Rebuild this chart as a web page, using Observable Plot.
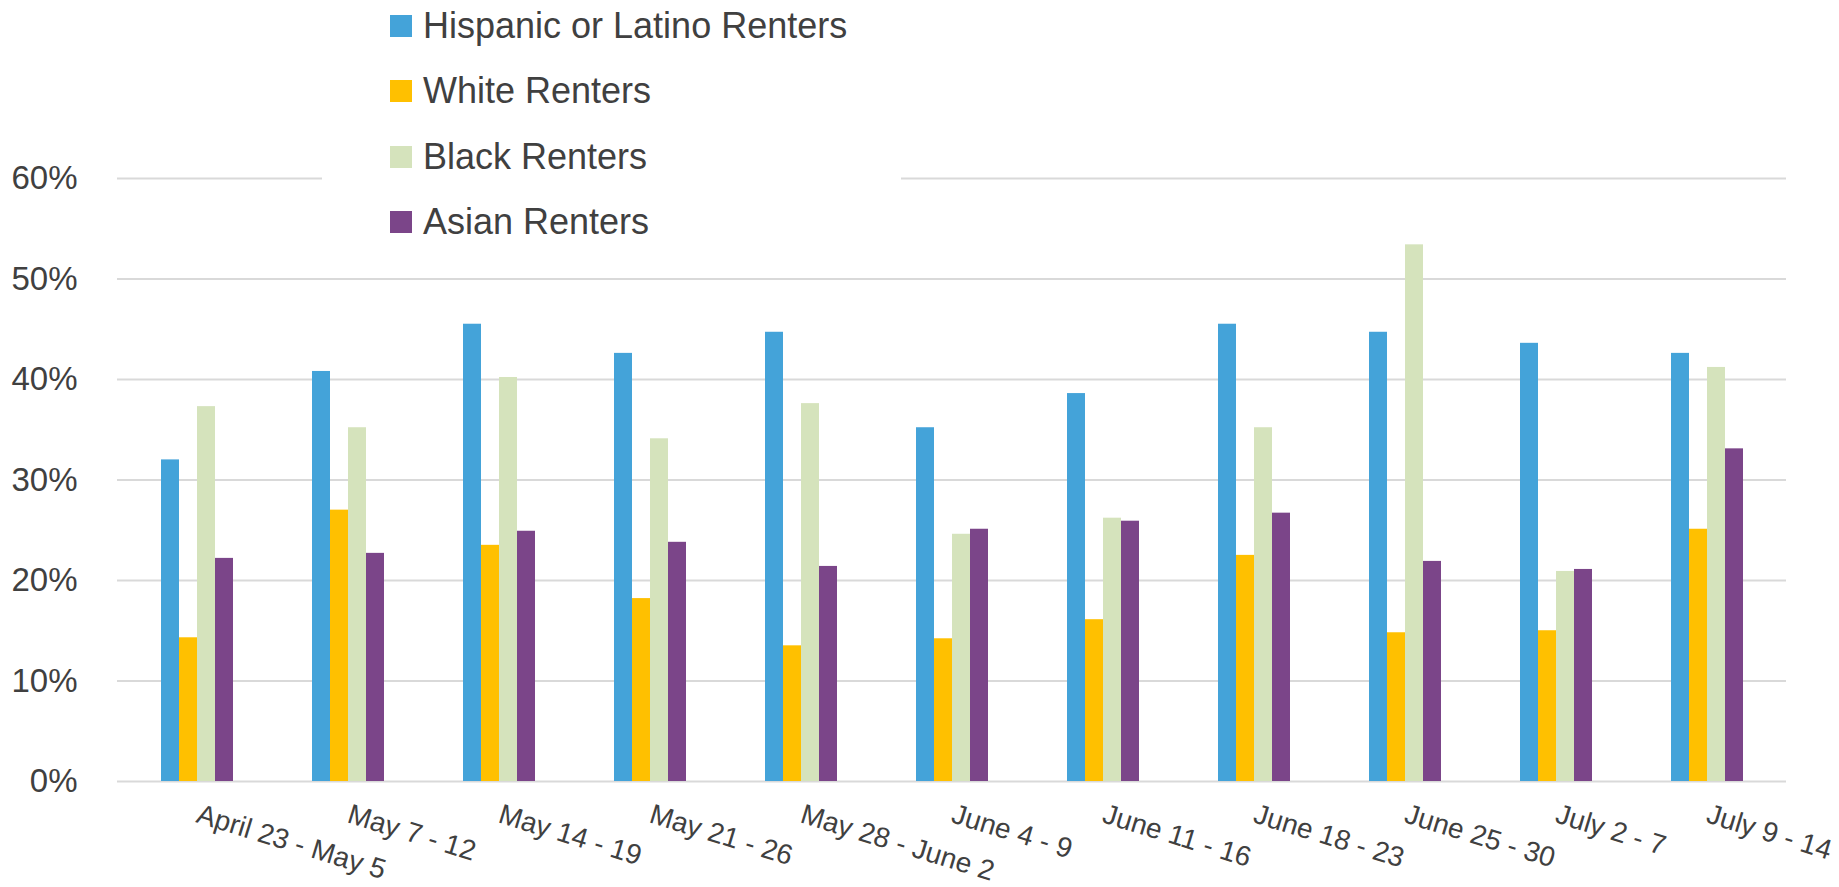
<!DOCTYPE html>
<html>
<head>
<meta charset="utf-8">
<script src="https://cdn.jsdelivr.net/npm/d3@7"></script>
<script src="https://cdn.jsdelivr.net/npm/@observablehq/plot@0.6"></script>
<style>
  html, body { margin: 0; padding: 0; background: #fff; }
  #wrap { position: relative; width: 1839px; height: 887px; overflow: hidden; font-family: "Liberation Sans", Arial, sans-serif; }
  #wrap svg { position: absolute; left: 0; top: 0; }
  #legend { position: absolute; left: 322px; top: 0; width: 579px; height: 250px; background: #fff; }
  .item { position: absolute; left: 68px; display: flex; align-items: center; height: 40px; }
  .sw { width: 22px; height: 22px; margin-right: 11px; }
  .lab { font-size: 36px; color: #404040; white-space: nowrap; line-height: 40px; }
</style>
</head>
<body>
<div id="wrap"><div id="legend"></div></div>
<script>
const periods = ["April 23 - May 5", "May 7 - 12", "May 14 - 19", "May 21 - 26", "May 28 - June 2", "June 4 - 9", "June 11 - 16", "June 18 - 23", "June 25 - 30", "July 2 - 7", "July 9 - 14"];
const seriesNames = ["Hispanic or Latino Renters", "White Renters", "Black Renters", "Asian Renters"];
const colors = ["#44A3D9", "#FFC000", "#D5E3BC", "#7B4589"];
const hispanic = [32.0, 40.8, 45.5, 42.6, 44.7, 35.2, 38.6, 45.5, 44.7, 43.6, 42.6];
const white    = [14.3, 27.0, 23.5, 18.2, 13.5, 14.2, 16.1, 22.5, 14.8, 15.0, 25.1];
const black    = [37.3, 35.2, 40.2, 34.1, 37.6, 24.6, 26.2, 35.2, 53.4, 20.9, 41.2];
const asian    = [22.2, 22.7, 24.9, 23.8, 21.4, 25.1, 25.9, 26.7, 21.9, 21.1, 33.1];
const yTicks = [0, 10, 20, 30, 40, 50, 60];

const seriesValues = [hispanic, white, black, asian];
const data = [];
periods.forEach((p, i) => seriesNames.forEach((s, j) => data.push({period: p, series: s, value: seriesValues[j][i]})));

const W = 1839, H = 887;
const margins = {marginLeft: 117, marginRight: 53, marginTop: 178, marginBottom: 106};
const font = "Liberation Sans, Arial, sans-serif";

const back = Plot.plot({
  width: W, height: H, ...margins,
  style: {fontFamily: font, background: "#fff"},
  x: {domain: periods, paddingInner: 0.51, paddingOuter: 0.255},
  y: {domain: [0, 60]},
  marks: [
    Plot.ruleY(yTicks, {y: d => d, stroke: "#d9d9d9", strokeWidth: 2.2}),
    Plot.axisY(yTicks, {tickSize: 0, tickPadding: 40, fontSize: 33, fill: "#404040", tickFormat: d => d + "%", label: null}),
    Plot.axisX({tickSize: 0, tickPadding: 32, tickRotate: 17, textAnchor: "start", fontSize: 28, fill: "#404040", label: null})
  ]
});

const front = Plot.plot({
  width: W, height: H, ...margins,
  style: {fontFamily: font, background: "transparent"},
  fx: {domain: periods, paddingInner: 0.51, paddingOuter: 0.255, axis: null, label: null},
  x: {domain: seriesNames, padding: 0, axis: null},
  y: {domain: [0, 60], axis: null},
  color: {domain: seriesNames, range: colors},
  marks: [
    Plot.barY(data, {fx: "period", x: "series", y: "value", fill: "series", inset: 0})
  ]
});

const wrap = document.getElementById("wrap");
const legend = document.getElementById("legend");
wrap.insertBefore(back, legend);
wrap.insertBefore(front, legend);

seriesNames.forEach((s, i) => {
  const row = document.createElement("div");
  row.className = "item";
  row.style.top = (6 + i * 65.3) + "px";
  const sw = document.createElement("div");
  sw.className = "sw";
  sw.style.background = colors[i];
  const lab = document.createElement("div");
  lab.className = "lab";
  lab.textContent = s;
  row.appendChild(sw);
  row.appendChild(lab);
  legend.appendChild(row);
});
</script>
</body>
</html>
